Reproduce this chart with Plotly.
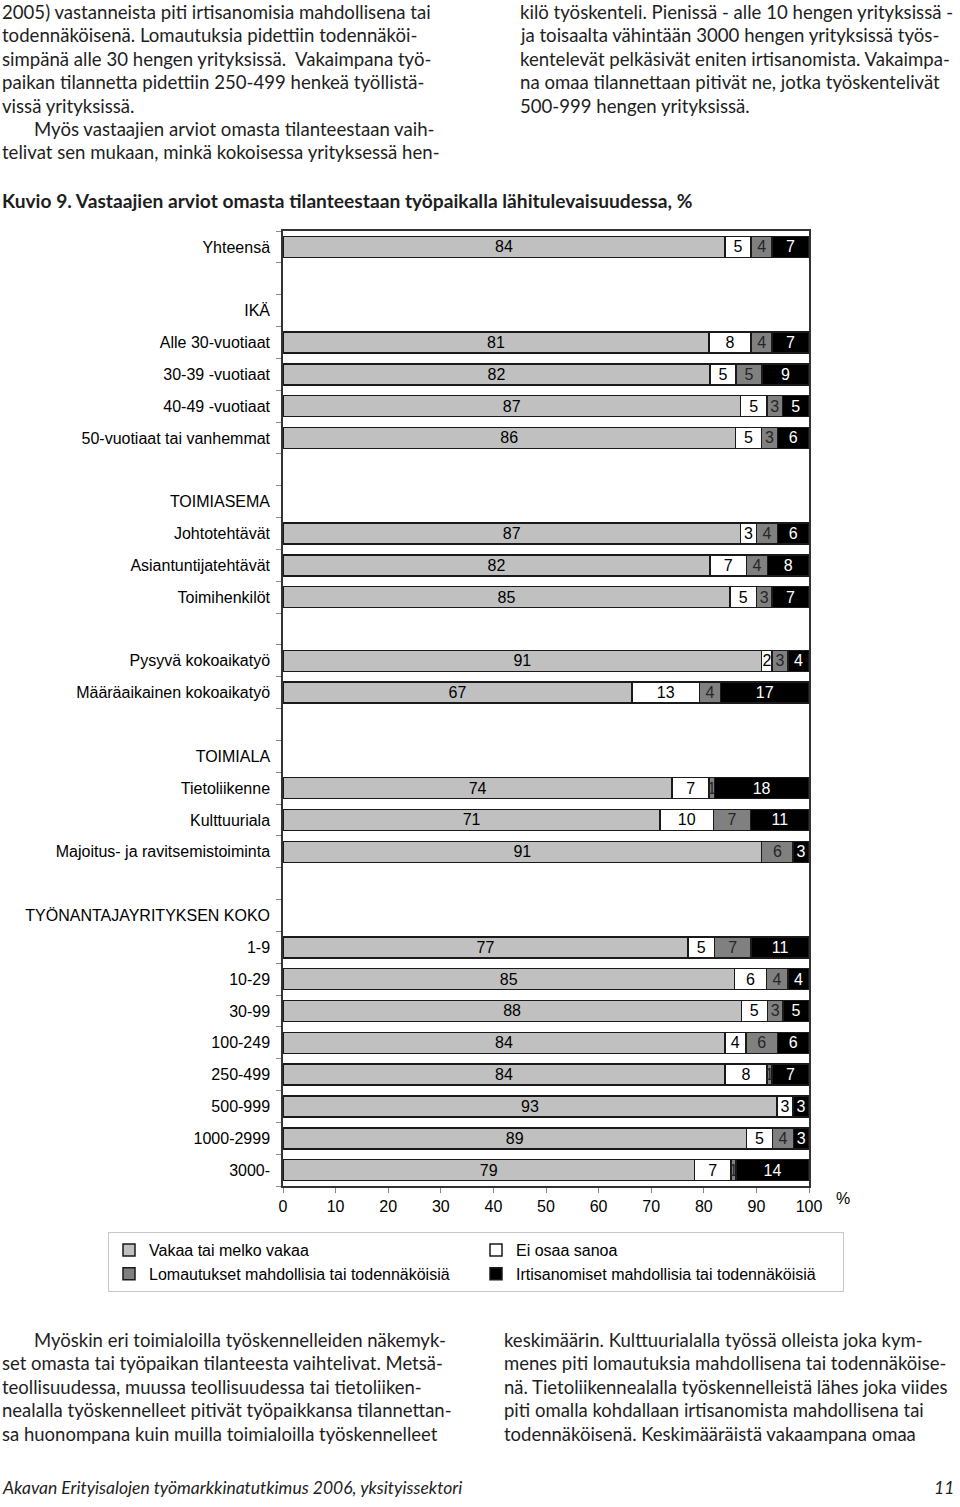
import plotly.graph_objects as go

# ---------------- data ----------------
row_labels = ["Yhteensä", "", "IKÄ", "Alle 30-vuotiaat", "30-39 -vuotiaat", "40-49 -vuotiaat",
              "50-vuotiaat tai vanhemmat", "", "TOIMIASEMA", "Johtotehtävät", "Asiantuntijatehtävät",
              "Toimihenkilöt", "", "Pysyvä kokoaikatyö", "Määräaikainen kokoaikatyö", "", "TOIMIALA",
              "Tietoliikenne", "Kulttuuriala", "Majoitus- ja ravitsemistoiminta", "",
              "TYÖNANTAJAYRITYKSEN KOKO", "1-9", "10-29", "30-99", "100-249", "250-499", "500-999",
              "1000-2999", "3000-"]

vakaa =        [84, None, None, 81, 82, 87, 86, None, None, 87, 82, 85, None, 91, 67, None, None,
                74, 71, 91, None, None, 77, 85, 88, 84, 84, 93, 89, 79]
ei_osaa =      [5, None, None, 8, 5, 5, 5, None, None, 3, 7, 5, None, 2, 13, None, None,
                7, 10, 0, None, None, 5, 6, 5, 4, 8, 3, 5, 7]
lomautukset =  [4, None, None, 4, 5, 3, 3, None, None, 4, 4, 3, None, 3, 4, None, None,
                1, 7, 6, None, None, 7, 4, 3, 6, 1, 0, 4, 1]
irtisanomiset = [7, None, None, 7, 9, 5, 6, None, None, 6, 8, 7, None, 4, 17, None, None,
                 18, 11, 3, None, None, 11, 4, 5, 6, 7, 3, 3, 14]

series_names = ["Vakaa tai melko vakaa", "Ei osaa sanoa",
                "Lomautukset mahdollisia tai todennäköisiä",
                "Irtisanomiset mahdollisia tai todennäköisiä"]
series_values = [vakaa, ei_osaa, lomautukset, irtisanomiset]
series_colors = ["#c0c0c0", "#ffffff", "#808080", "#000000"]
series_textcolors = ["#000000", "#000000", "#262626", "#ffffff"]

x_ticks = [0, 10, 20, 30, 40, 50, 60, 70, 80, 90, 100]

title_text = "Kuvio 9. Vastaajien arviot omasta tilanteestaan työpaikalla lähitulevaisuudessa, %"

top_left_lines = [
    "2005) vastanneista piti irtisanomisia mahdollisena tai",
    "todennäköisenä. Lomautuksia pidettiin todennäköi-",
    "simpänä alle 30 hengen yrityksissä.  Vakaimpana työ-",
    "paikan tilannetta pidettiin 250-499 henkeä työllistä-",
    "vissä yrityksissä.",
    "Myös vastaajien arviot omasta tilanteestaan vaih-",
    "telivat sen mukaan, minkä kokoisessa yrityksessä hen-",
]
top_right_lines = [
    "kilö työskenteli. Pienissä - alle 10 hengen yrityksissä -",
    "ja toisaalta vähintään 3000 hengen yrityksissä työs-",
    "kentelevät pelkäsivät eniten irtisanomista. Vakaimpa-",
    "na omaa tilannettaan pitivät ne, jotka työskentelivät",
    "500-999 hengen yrityksissä.",
]
bottom_left_lines = [
    "Myöskin eri toimialoilla työskennelleiden näkemyk-",
    "set omasta tai työpaikan tilanteesta vaihtelivat. Metsä-",
    "teollisuudessa, muussa teollisuudessa tai tietoliiken-",
    "nealalla työskennelleet pitivät työpaikkansa tilannettan-",
    "sa huonompana kuin muilla toimialoilla työskennelleet",
]
bottom_right_lines = [
    "keskimäärin. Kulttuurialalla työssä olleista joka kym-",
    "menes piti lomautuksia mahdollisena tai todennäköise-",
    "nä. Tietoliikennealalla työskennelleistä lähes joka viides",
    "piti omalla kohdallaan irtisanomista mahdollisena tai",
    "todennäköisenä. Keskimääräistä vakaampana omaa",
]
footer_left = "Akavan Erityisalojen työmarkkinatutkimus 2006, yksityissektori"
footer_right = "11"

# ---------------- layout geometry ----------------
W, H = 960, 1507
L, R = 283, 809
T, B = 231, 1186
PW, PH = R - L, B - T


def px(x):
    return (x - L) / PW


def py(y):
    return (B - y) / PH


row_ids = [f"r{i}" for i in range(len(row_labels))]

fig = go.Figure()
for name, vals, col, tcol in zip(series_names, series_values, series_colors, series_textcolors):
    fig.add_trace(go.Bar(
        y=row_ids, x=vals, name=name, orientation="h",
        marker=dict(color=col, line=dict(color="#1a1a1a", width=1.5)),
        text=[("" if (v is None or v == 0) else str(v)) for v in vals],
        texttemplate="%{text}",
        textposition="inside", insidetextanchor="middle", textangle=0,
        insidetextfont=dict(family="Liberation Sans, Arial", size=16, color=tcol),
        hovertemplate=name + ": %{text}<extra></extra>",
    ))

annotations = []
text_col = "#1e1e1e"
top_font = dict(family="Lato, Open Sans, sans-serif", size=18.6, color=text_col)
bottom_font = dict(family="Lato, Open Sans, sans-serif", size=18.5, color=text_col)
line_h = 23.4


def add_lines(lines, x0, y0, font, indent_idx=None, indent=32):
    for i, s in enumerate(lines):
        x = x0 + (indent if (indent_idx is not None and i == indent_idx) else 0)
        annotations.append(dict(
            text=s, xref="paper", yref="paper", x=px(x), y=py(y0 + i * line_h),
            xanchor="left", yanchor="middle", showarrow=False, font=font))


add_lines(top_left_lines[:5], 0, 12, top_font)
add_lines(top_left_lines[5:], 0, 129, top_font, indent_idx=0)
add_lines(top_right_lines, 518, 12, top_font)
add_lines(bottom_left_lines, 0, 1340, bottom_font, indent_idx=0)
add_lines(bottom_right_lines, 502, 1340, bottom_font)

annotations.append(dict(text="<b>" + title_text + "</b>", xref="paper", yref="paper",
                        x=px(0), y=py(200), xanchor="left", yanchor="middle", showarrow=False,
                        font=dict(family="Lato, sans-serif", size=19.2, color=text_col)))
annotations.append(dict(text="<i>" + footer_left + "</i>", xref="paper", yref="paper",
                        x=px(0), y=py(1487), xanchor="left", yanchor="middle", showarrow=False,
                        font=dict(family="Lato, sans-serif", size=17.5, color=text_col)))
annotations.append(dict(text="<i>" + footer_right + "</i>", xref="paper", yref="paper",
                        x=px(956), y=py(1487), xanchor="right", yanchor="middle", showarrow=False,
                        font=dict(family="Lato, sans-serif", size=17.5, color=text_col)))
annotations.append(dict(text="%", xref="paper", yref="paper",
                        x=px(843), y=py(1198), xanchor="center", yanchor="middle", showarrow=False,
                        font=dict(family="Liberation Sans, Arial", size=16, color="#000000")))

fig.update_layout(
    width=W, height=H, autosize=False,
    margin=dict(l=L, r=W - R, t=T, b=H - B, pad=0),
    paper_bgcolor="white", plot_bgcolor="white",
    barmode="stack", barnorm="percent", bargap=0.34,
    uniformtext=dict(minsize=16, mode="show"),
    showlegend=True,
    legend=dict(orientation="h", x=px(108), y=py(1232), xanchor="left", yanchor="top",
                entrywidth=322, entrywidthmode="pixels", traceorder="normal",
                bordercolor="#c8c8c8", borderwidth=1,
                font=dict(family="Liberation Sans, Arial", size=16, color="#000000")),
    annotations=annotations,
    font=dict(family="Liberation Sans, Arial", size=16, color="#000000"),
)

fig.update_xaxes(range=[0, 100], tickvals=x_ticks, ticktext=[str(v) for v in x_ticks],
                 showgrid=False, zeroline=False, showline=True, linecolor="#333333", linewidth=1.5,
                 mirror=True, ticks="outside", ticklen=5, tickcolor="#888888",
                 tickfont=dict(family="Liberation Sans, Arial", size=16, color="#000000"),
                 fixedrange=True)
fig.update_yaxes(categoryorder="array", categoryarray=row_ids, autorange="reversed",
                 tickmode="array", tickvals=row_ids, ticktext=row_labels,
                 showgrid=False, zeroline=False, showline=True, linecolor="#333333", linewidth=1.5,
                 mirror=True, ticks="outside", ticklen=5, tickcolor="#888888", tickson="boundaries",
                 ticklabelstandoff=8,
                 tickfont=dict(family="Liberation Sans, Arial", size=16, color="#000000"),
                 fixedrange=True)

fig.write_html("out.html", config={"displayModeBar": False},
               post_script="document.body.style.margin='0px';")
